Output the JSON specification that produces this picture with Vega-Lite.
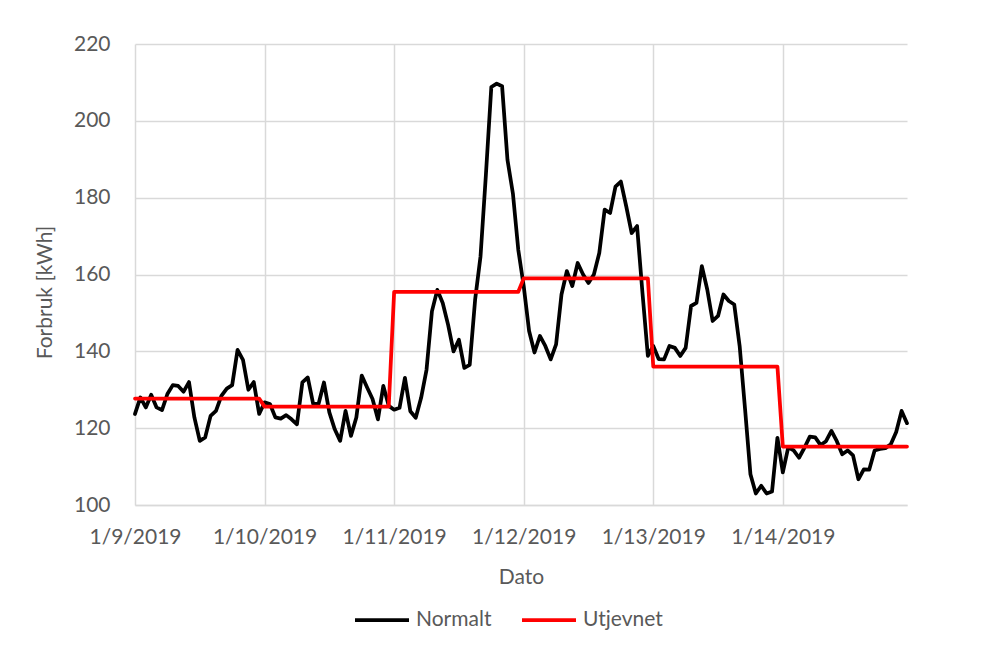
{
  "$schema": "https://vega.github.io/schema/vega-lite/v6.json",
  "width": 772,
  "height": 461,
  "autosize": "none",
  "padding": {"left": 135, "top": 44, "right": 80, "bottom": 145},
  "background": "white",
  "config": {
    "font": "Lato",
    "view": {"stroke": null},
    "axis": {"labelColor": "#595959", "titleColor": "#595959", "labelFont": "Lato", "titleFont": "Lato", "titleFontWeight": "normal", "gridColor": "#d9d9d9", "gridWidth": 1.5, "ticks": false, "domain": false},
    "legend": {"labelColor": "#595959", "labelFont": "Lato"}
  },
  "data": {"values": [
{"h":0,"Normalt":123.7,"Utjevnet":127.7},{"h":1,"Normalt":128,"Utjevnet":127.7},{"h":2,"Normalt":125.4,"Utjevnet":127.7},{"h":3,"Normalt":128.7,"Utjevnet":127.7},{"h":4,"Normalt":125.4,"Utjevnet":127.7},{"h":5,"Normalt":124.7,"Utjevnet":127.7},{"h":6,"Normalt":128.9,"Utjevnet":127.7},{"h":7,"Normalt":131.2,"Utjevnet":127.7},{"h":8,"Normalt":131,"Utjevnet":127.7},{"h":9,"Normalt":129.5,"Utjevnet":127.7},{"h":10,"Normalt":132,"Utjevnet":127.7},{"h":11,"Normalt":122.8,"Utjevnet":127.7},{"h":12,"Normalt":116.7,"Utjevnet":127.7},{"h":13,"Normalt":117.6,"Utjevnet":127.7},{"h":14,"Normalt":123.2,"Utjevnet":127.7},{"h":15,"Normalt":124.5,"Utjevnet":127.7},{"h":16,"Normalt":128.4,"Utjevnet":127.7},{"h":17,"Normalt":130.3,"Utjevnet":127.7},{"h":18,"Normalt":131.2,"Utjevnet":127.7},{"h":19,"Normalt":140.4,"Utjevnet":127.7},{"h":20,"Normalt":137.8,"Utjevnet":127.7},{"h":21,"Normalt":130,"Utjevnet":127.7},{"h":22,"Normalt":132,"Utjevnet":127.7},{"h":23,"Normalt":123.7,"Utjevnet":127.7},
{"h":24,"Normalt":126.7,"Utjevnet":125.6},{"h":25,"Normalt":126.3,"Utjevnet":125.6},{"h":26,"Normalt":122.8,"Utjevnet":125.6},{"h":27,"Normalt":122.5,"Utjevnet":125.6},{"h":28,"Normalt":123.4,"Utjevnet":125.6},{"h":29,"Normalt":122.3,"Utjevnet":125.6},{"h":30,"Normalt":121,"Utjevnet":125.6},{"h":31,"Normalt":131.9,"Utjevnet":125.6},{"h":32,"Normalt":133.2,"Utjevnet":125.6},{"h":33,"Normalt":126.3,"Utjevnet":125.6},{"h":34,"Normalt":126.3,"Utjevnet":125.6},{"h":35,"Normalt":131.9,"Utjevnet":125.6},{"h":36,"Normalt":124.1,"Utjevnet":125.6},{"h":37,"Normalt":119.7,"Utjevnet":125.6},{"h":38,"Normalt":116.7,"Utjevnet":125.6},{"h":39,"Normalt":124.5,"Utjevnet":125.6},{"h":40,"Normalt":118,"Utjevnet":125.6},{"h":41,"Normalt":122.8,"Utjevnet":125.6},{"h":42,"Normalt":133.7,"Utjevnet":125.6},{"h":43,"Normalt":130.6,"Utjevnet":125.6},{"h":44,"Normalt":127.6,"Utjevnet":125.6},{"h":45,"Normalt":122.3,"Utjevnet":125.6},{"h":46,"Normalt":131,"Utjevnet":125.6},{"h":47,"Normalt":125.8,"Utjevnet":125.6},
{"h":48,"Normalt":124.8,"Utjevnet":155.5},{"h":49,"Normalt":125.3,"Utjevnet":155.5},{"h":50,"Normalt":133.1,"Utjevnet":155.5},{"h":51,"Normalt":124.4,"Utjevnet":155.5},{"h":52,"Normalt":122.7,"Utjevnet":155.5},{"h":53,"Normalt":127.9,"Utjevnet":155.5},{"h":54,"Normalt":135.2,"Utjevnet":155.5},{"h":55,"Normalt":150.4,"Utjevnet":155.5},{"h":56,"Normalt":156,"Utjevnet":155.5},{"h":57,"Normalt":152.6,"Utjevnet":155.5},{"h":58,"Normalt":146.9,"Utjevnet":155.5},{"h":59,"Normalt":140,"Utjevnet":155.5},{"h":60,"Normalt":143,"Utjevnet":155.5},{"h":61,"Normalt":135.7,"Utjevnet":155.5},{"h":62,"Normalt":136.5,"Utjevnet":155.5},{"h":63,"Normalt":153.4,"Utjevnet":155.5},{"h":64,"Normalt":164.7,"Utjevnet":155.5},{"h":65,"Normalt":186,"Utjevnet":155.5},{"h":66,"Normalt":208.8,"Utjevnet":155.5},{"h":67,"Normalt":209.7,"Utjevnet":155.5},{"h":68,"Normalt":209,"Utjevnet":155.5},{"h":69,"Normalt":189.8,"Utjevnet":155.5},{"h":70,"Normalt":181.1,"Utjevnet":155.5},{"h":71,"Normalt":166.4,"Utjevnet":155.5},
{"h":72,"Normalt":157,"Utjevnet":159},{"h":73,"Normalt":145.3,"Utjevnet":159},{"h":74,"Normalt":139.7,"Utjevnet":159},{"h":75,"Normalt":144,"Utjevnet":159},{"h":76,"Normalt":141.4,"Utjevnet":159},{"h":77,"Normalt":137.9,"Utjevnet":159},{"h":78,"Normalt":141.8,"Utjevnet":159},{"h":79,"Normalt":154.8,"Utjevnet":159},{"h":80,"Normalt":160.9,"Utjevnet":159},{"h":81,"Normalt":157,"Utjevnet":159},{"h":82,"Normalt":163,"Utjevnet":159},{"h":83,"Normalt":160,"Utjevnet":159},{"h":84,"Normalt":157.8,"Utjevnet":159},{"h":85,"Normalt":160,"Utjevnet":159},{"h":86,"Normalt":165.6,"Utjevnet":159},{"h":87,"Normalt":176.9,"Utjevnet":159},{"h":88,"Normalt":176,"Utjevnet":159},{"h":89,"Normalt":182.9,"Utjevnet":159},{"h":90,"Normalt":184.2,"Utjevnet":159},{"h":91,"Normalt":177.7,"Utjevnet":159},{"h":92,"Normalt":170.8,"Utjevnet":159},{"h":93,"Normalt":172.6,"Utjevnet":159},{"h":94,"Normalt":155.2,"Utjevnet":159},{"h":95,"Normalt":138.8,"Utjevnet":159},
{"h":96,"Normalt":141.4,"Utjevnet":136},{"h":97,"Normalt":138,"Utjevnet":136},{"h":98,"Normalt":137.9,"Utjevnet":136},{"h":99,"Normalt":141.4,"Utjevnet":136},{"h":100,"Normalt":140.9,"Utjevnet":136},{"h":101,"Normalt":138.8,"Utjevnet":136},{"h":102,"Normalt":140.9,"Utjevnet":136},{"h":103,"Normalt":151.8,"Utjevnet":136},{"h":104,"Normalt":152.6,"Utjevnet":136},{"h":105,"Normalt":162.2,"Utjevnet":136},{"h":106,"Normalt":156.1,"Utjevnet":136},{"h":107,"Normalt":147.9,"Utjevnet":136},{"h":108,"Normalt":149.2,"Utjevnet":136},{"h":109,"Normalt":154.8,"Utjevnet":136},{"h":110,"Normalt":153.1,"Utjevnet":136},{"h":111,"Normalt":152.2,"Utjevnet":136},{"h":112,"Normalt":141.4,"Utjevnet":136},{"h":113,"Normalt":125,"Utjevnet":136},{"h":114,"Normalt":108,"Utjevnet":136},{"h":115,"Normalt":103,"Utjevnet":136},{"h":116,"Normalt":105,"Utjevnet":136},{"h":117,"Normalt":103,"Utjevnet":136},{"h":118,"Normalt":103.5,"Utjevnet":136},{"h":119,"Normalt":117.5,"Utjevnet":136},
{"h":120,"Normalt":108.5,"Utjevnet":115.2},{"h":121,"Normalt":115,"Utjevnet":115.2},{"h":122,"Normalt":114.2,"Utjevnet":115.2},{"h":123,"Normalt":112.3,"Utjevnet":115.2},{"h":124,"Normalt":114.9,"Utjevnet":115.2},{"h":125,"Normalt":117.8,"Utjevnet":115.2},{"h":126,"Normalt":117.6,"Utjevnet":115.2},{"h":127,"Normalt":115.6,"Utjevnet":115.2},{"h":128,"Normalt":116.6,"Utjevnet":115.2},{"h":129,"Normalt":119.3,"Utjevnet":115.2},{"h":130,"Normalt":116.6,"Utjevnet":115.2},{"h":131,"Normalt":113.2,"Utjevnet":115.2},{"h":132,"Normalt":114.2,"Utjevnet":115.2},{"h":133,"Normalt":112.9,"Utjevnet":115.2},{"h":134,"Normalt":106.7,"Utjevnet":115.2},{"h":135,"Normalt":109.3,"Utjevnet":115.2},{"h":136,"Normalt":109.2,"Utjevnet":115.2},{"h":137,"Normalt":114.2,"Utjevnet":115.2},{"h":138,"Normalt":114.6,"Utjevnet":115.2},{"h":139,"Normalt":114.8,"Utjevnet":115.2},{"h":140,"Normalt":115.8,"Utjevnet":115.2},{"h":141,"Normalt":119,"Utjevnet":115.2},{"h":142,"Normalt":124.5,"Utjevnet":115.2},{"h":143,"Normalt":121.3,"Utjevnet":115.2}
  ]},
  "transform": [{"fold": ["Normalt", "Utjevnet"], "as": ["serie", "verdi"]}],
  "mark": {"type": "line", "strokeWidth": 3.75, "strokeJoin": "round", "strokeCap": "round"},
  "encoding": {
    "x": {
      "field": "h", "type": "quantitative",
      "scale": {"domain": [0, 143], "nice": false, "zero": false},
      "axis": {
        "title": "Dato", "titleFontSize": 21, "titlePadding": 19,
        "values": [0, 24, 48, 72, 96, 120],
        "labelExpr": "['1/9/2019','1/10/2019','1/11/2019','1/12/2019','1/13/2019','1/14/2019'][round(datum.value/24)]",
        "labelFontSize": 21, "labelPadding": 21, "labelFlush": false, "labelOverlap": false,
        "domain": true, "domainColor": "#d9d9d9", "domainWidth": 1.5
      }
    },
    "y": {
      "field": "verdi", "type": "quantitative",
      "scale": {"domain": [100, 220], "nice": false, "zero": false},
      "axis": {
        "title": "Forbruk [kWh]", "titleFontSize": 21, "titlePadding": 18, "titleY": 248,
        "values": [100, 120, 140, 160, 180, 200, 220],
        "labelFontSize": 21, "labelPadding": 25
      }
    },
    "color": {
      "field": "serie", "type": "nominal",
      "scale": {"domain": ["Normalt", "Utjevnet"], "range": ["#000000", "#ff0000"]},
      "legend": {
        "title": null, "orient": "none", "legendX": 218, "legendY": 547, "direction": "horizontal",
        "symbolType": "stroke", "symbolSize": 2916, "symbolStrokeWidth": 3.75,
        "labelFontSize": 21, "columnPadding": 22, "labelOffset": 5
      }
    }
  }
}
